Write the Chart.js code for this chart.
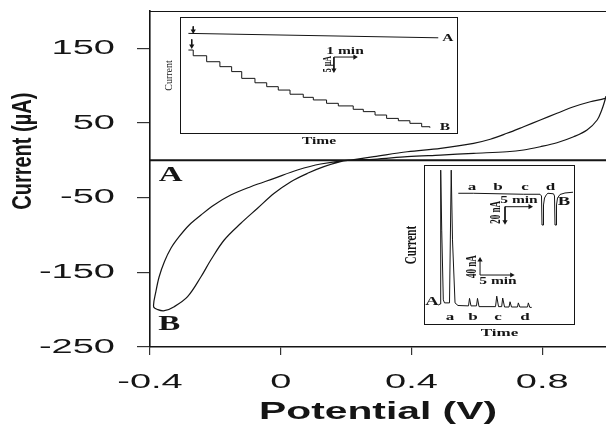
<!DOCTYPE html>
<html><head><meta charset="utf-8">
<script src="https://cdn.jsdelivr.net/npm/chart.js@4.4.1/dist/chart.umd.min.js"></script>
<style>
html,body{margin:0;padding:0;background:#fff;}
#wrap{position:relative;width:606px;height:435px;overflow:hidden;background:#fff;}
canvas{position:absolute;}
#main{left:0;top:0;width:606px;height:435px;}
#in1{left:155px;top:12px;width:310px;height:140px;}
#in2{left:400px;top:160px;width:180px;height:182px;}
</style></head><body>
<div id="wrap">
<canvas id="main" width="606" height="435"></canvas>
<canvas id="in1" width="310" height="140"></canvas>
<canvas id="in2" width="180" height="182"></canvas>
</div>
<script>
// ---------------- main voltammogram data ----------------
const xTicks = [-0.4, 0, 0.4, 0.8];
const xTickLabels = ['-0.4', '0', '0.4', '0.8'];
const yTicks = [150, 50, -50, -150, -250];

// Curve A: flat baseline
const potentialA = [-0.4, 0.2, 0.995];
const currentA = [0, 0, 0];

// Curve B: cyclic voltammogram loop
const potentialB = [0.995, 0.992, 0.947, 0.896, 0.845, 0.794, 0.743, 0.692, 0.641, 0.590, 0.489, 0.387, 0.285, 0.214,
  0.183, 0.132, 0.082, 0.031, -0.020, -0.071, -0.122, -0.173, -0.214, -0.244, -0.285, -0.326, -0.356, -0.376, -0.389,
  -0.382, -0.372, -0.356, -0.336, -0.311, -0.280, -0.244, -0.204, -0.153, -0.092, -0.020, 0.051, 0.122, 0.209,
  0.285, 0.387, 0.489, 0.590, 0.692, 0.743, 0.794, 0.845, 0.896, 0.937, 0.968, 0.982, 0.992, 0.995];
const currentB = [86, 83, 78.5, 71.8, 63, 54, 45, 36.2, 28.2, 22.8, 16.1, 11.5, 4.9, 0.4,
  -1.8, -8.5, -17.4, -28.6, -44.2, -64.2, -84.3, -106.7, -133.5, -155.9, -182.6, -196, -201.4, -200, -196,
  -175.9, -155.9, -135.8, -117.8, -102.3, -86.6, -73.2, -59.8, -46.4, -35.3, -24.1, -13.0, -4.9, 0.4,
  1.4, 4.9, 7.1, 9.4, 11.5, 13.8, 18.2, 23.6, 31.6, 40.6, 54, 67.4, 80.8, 86];

// ---------------- inset 1 (amperometric staircase) ----------------
const timeA1 = [0.40, 12.30];
const currA1 = [38.7, 37.0];
const timeB1 = [0.40, 0.63, 1.27, 1.90, 2.46, 2.94, 3.57, 4.13, 4.68, 5.24, 5.87, 6.35, 6.98, 7.54, 8.25, 8.73, 9.29, 9.84, 10.40, 10.95, 11.51, 11.90];
const currB1 = [32.3, 30.1, 27.8, 25.9, 24.0, 21.4, 19.7, 18.2, 16.9, 15.3, 14.1, 13.1, 11.8, 10.8, 9.5, 8.6, 7.3, 6.0, 5.1, 4.1, 2.8, 2.4];

// ---------------- inset 2 (flow injection peaks) ----------------
const timeA2 = [2.26, 2.53, 2.64, 2.80, 3.05, 3.24, 4.03, 4.30, 4.50, 4.90, 5.37, 7.03, 7.19, 7.42, 8.29, 8.45, 8.69,
  11.30, 11.49, 11.77, 12.27, 12.43, 12.72, 13.43, 13.59, 13.82, 14.77, 14.90, 15.13, 16.35, 16.48, 16.71, 17.01];
const currA2 = [53, 56, 413, 253, 67, 59, 59, 413, 227, 59, 52, 51, 71, 51, 51, 71, 49,
  49, 77, 49, 49, 72, 48, 48, 62, 48, 48, 59, 48, 48, 59, 47, 47];
const timeB2 = [6.86, 9.86, 15.2, 19.86, 23.2, 23.5, 23.6, 23.8, 23.9, 24.1, 24.5, 24.8, 25.9, 26.1, 26.2, 26.4, 26.5, 26.7, 27.2, 28.2, 29.8];
const currB2 = [175.6, 175.6, 174.9, 174.3, 174.3, 172, 133.3, 133.3, 160, 169.3, 174, 175.6, 174.9, 172, 133.3, 133.3, 160, 169.3, 174, 176, 177];

// ---------------- helpers ----------------
const INK = '#151515';
const SANS = "'Liberation Sans', Arial, sans-serif";
const SERIF = "'Liberation Serif', 'Times New Roman', serif";
const pts = (xs, ys) => xs.map((x, i) => ({x, y: ys[i]}));

function stretchContext(canvas, rule) {
  const ctx = canvas.getContext('2d');
  const fill = CanvasRenderingContext2D.prototype.fillText;
  const measure = CanvasRenderingContext2D.prototype.measureText;
  ctx.fillText = function (text, x, y, maxWidth) {
    const sx = rule(ctx.font);
    if (sx === 1) {
      return maxWidth === undefined ? fill.call(ctx, text, x, y) : fill.call(ctx, text, x, y, maxWidth);
    }
    const m = ctx.getTransform();
    const px = m.a * x + m.c * y + m.e;
    const py = m.b * x + m.d * y + m.f;
    ctx.save();
    ctx.setTransform(1, 0, 0, 1, 0, 0);
    ctx.translate(px, py);
    ctx.scale(sx, 1);
    ctx.translate(-px, -py);
    ctx.transform(m.a, m.b, m.c, m.d, m.e, m.f);
    fill.call(ctx, text, x, y);
    ctx.restore();
  };
  ctx.measureText = function (text) {
    const r = measure.call(ctx, text);
    const sx = rule(ctx.font);
    if (sx === 1) return r;
    return {width: r.width * sx,
      actualBoundingBoxAscent: r.actualBoundingBoxAscent, actualBoundingBoxDescent: r.actualBoundingBoxDescent,
      actualBoundingBoxLeft: r.actualBoundingBoxLeft * sx, actualBoundingBoxRight: r.actualBoundingBoxRight * sx,
      fontBoundingBoxAscent: r.fontBoundingBoxAscent, fontBoundingBoxDescent: r.fontBoundingBoxDescent};
  };
  return canvas;
}

function notesPlugin(items) {
  return {
    id: 'notes',
    afterDatasetsDraw(chart) {
      const ctx = chart.ctx;
      items.forEach(n => {
        const xs = chart.scales[n.xs || 'x'], ys = chart.scales[n.ys || 'y'];
        const px = xs.getPixelForValue(n.x), py = ys.getPixelForValue(n.y);
        ctx.save();
        ctx.font = (n.weight || 'bold') + ' ' + n.size + 'px ' + SERIF;
        ctx.fillStyle = INK;
        ctx.textAlign = 'center';
        ctx.textBaseline = 'middle';
        ctx.translate(px, py);
        if (n.rot) ctx.rotate(n.rot * Math.PI / 180);
        ctx.fillText(n.text, 0, 0);
        ctx.restore();
      });
    }
  };
}

function framePlugin(sides, width) {
  return {
    id: 'frame',
    afterDraw(chart) {
      const {ctx, chartArea: a} = chart;
      ctx.save();
      ctx.strokeStyle = INK;
      ctx.lineWidth = width;
      ctx.beginPath();
      if (sides.includes('t')) { ctx.moveTo(a.left, a.top + 0.5); ctx.lineTo(a.right, a.top + 0.5); }
      if (sides.includes('r')) { ctx.moveTo(a.right - 0.5, a.top); ctx.lineTo(a.right - 0.5, a.bottom); }
      if (sides.includes('b')) { ctx.moveTo(a.left, a.bottom - 0.5); ctx.lineTo(a.right, a.bottom - 0.5); }
      if (sides.includes('l')) { ctx.moveTo(a.left + 0.5, a.top); ctx.lineTo(a.left + 0.5, a.bottom); }
      ctx.stroke();
      ctx.restore();
    }
  };
}

function arrow(x0, y0, x1, y1, rot, xs, ys) {
  return {data: [{x: x0, y: y0}, {x: x1, y: y1}], showLine: true, borderColor: INK, borderWidth: 1,
    pointRadius: [0, 3], pointStyle: 'triangle', rotation: [0, rot], pointBackgroundColor: INK,
    pointBorderWidth: 0, xAxisID: xs || 'x', yAxisID: ys || 'y'};
}

function noPad(s) { s.paddingTop = 0; s.paddingBottom = 0; s.paddingLeft = 0; s.paddingRight = 0; }

Chart.defaults.animation = false;
Chart.defaults.color = INK;

const hidden = {ticks: {display: false}, grid: {display: false, drawTicks: false}, border: {display: false}};

// ---------------- main chart ----------------
stretchContext(document.getElementById('main'), f => /Serif/.test(f) ? 1.5 : (/bold/.test(f) ? (/24px/.test(f) ? 1.7 : 1.4) : 1.9));
new Chart(document.getElementById('main'), {
  type: 'scatter',
  data: {datasets: [
    {data: pts(potentialA, currentA), showLine: true, borderColor: INK, borderWidth: 2, pointRadius: 0},
    {data: pts(potentialB, currentB), showLine: true, borderColor: INK, borderWidth: 1.2, pointRadius: 0, tension: 0.35}
  ]},
  options: {
    responsive: false, devicePixelRatio: 1, animation: false,
    layout: {padding: {top: 11, right: 0, left: 0, bottom: 0}},
    plugins: {legend: {display: false}, tooltip: {enabled: false}},
    scales: {
      x: {type: 'linear', min: -0.4, max: 0.995,
        afterBuildTicks: s => { s.ticks = xTicks.map(v => ({value: v})); },
        afterFit: s => { s.height = 88; noPad(s); },
        ticks: {callback: v => xTickLabels[xTicks.indexOf(v)], font: {family: SANS, size: 20}, color: INK, padding: 15, maxRotation: 0, autoSkip: false},
        grid: {display: true, drawOnChartArea: false, drawTicks: true, tickLength: 8, color: '#333', lineWidth: 1.2},
        border: {display: true, color: INK, width: 1.6},
        title: {display: true, text: 'Potential (V)', color: INK, font: {family: SANS, size: 24, weight: 'bold'}, padding: {top: 0, bottom: 8}}
      },
      y: {type: 'linear', min: -250, max: 200,
        afterBuildTicks: s => { s.ticks = yTicks.map(v => ({value: v})); },
        afterFit: s => { s.width = 150; noPad(s); },
        ticks: {font: {family: SANS, size: 20}, color: INK, padding: 22},
        grid: {display: true, drawOnChartArea: false, drawTicks: true, tickLength: 13, color: '#333', lineWidth: 1.2},
        border: {display: true, color: INK, width: 1.6},
        title: {display: true, text: '          Current (µA)', color: INK, font: {family: SANS, size: 20, weight: 'bold'}, padding: {top: 11, bottom: 0}}
      }
    }
  },
  plugins: [framePlugin('t', 1.2), notesPlugin([
    {text: 'A', x: -0.337, y: -20, size: 22},
    {text: 'B', x: -0.341, y: -220, size: 22}
  ])]
});

// ---------------- inset 1 ----------------
stretchContext(document.getElementById('in1'), f => /bold/.test(f) ? 1.55 : 1);
new Chart(document.getElementById('in1'), {
  type: 'scatter',
  data: {datasets: [
    {data: pts(timeA1, currA1), showLine: true, borderColor: INK, borderWidth: 1, pointRadius: 0},
    {data: pts(timeB1, currB1), showLine: true, borderColor: INK, borderWidth: 1, pointRadius: 0, stepped: 'before'},
    arrow(0.63, 41.4, 0.63, 39.6, 180),
    arrow(0.56, 36.4, 0.56, 33.8, 180),
    arrow(7.33, 29.6, 8.33, 29.6, 90),
    arrow(7.33, 29.6, 7.33, 24.6, 180)
  ]},
  options: {
    responsive: false, devicePixelRatio: 1, animation: false,
    layout: {padding: {top: 5, right: 7, left: 0, bottom: 0}},
    plugins: {legend: {display: false}, tooltip: {enabled: false}},
    scales: {
      x: Object.assign({type: 'linear', min: 0, max: 13.24, afterFit: s => { s.height = 18; noPad(s); },
        title: {display: true, text: 'Time', color: INK, font: {family: SERIF, size: 10, weight: 'bold'}, padding: {top: 0, bottom: 5}}}, hidden),
      y: Object.assign({type: 'linear', min: 0, max: 45, afterFit: s => { s.width = 25; noPad(s); },
        title: {display: true, text: 'Current', color: INK, font: {family: SERIF, size: 10}, padding: {top: 8, bottom: 0}}}, hidden)
    }
  },
  plugins: [framePlugin('trbl', 1), notesPlugin([
    {text: 'A', x: 12.76, y: 36.9, size: 10},
    {text: 'B', x: 12.62, y: 2.7, size: 10},
    {text: '1 min', x: 7.86, y: 31.6, size: 10},
    {text: '5 µA', x: 7.06, y: 26.9, size: 8, rot: -90}
  ])]
});

// ---------------- inset 2 ----------------
stretchContext(document.getElementById('in2'), f => /bold/.test(f) ? 1.55 : 1);
new Chart(document.getElementById('in2'), {
  type: 'scatter',
  data: {datasets: [
    {data: pts(timeA2, currA2), showLine: true, borderColor: INK, borderWidth: 1, pointRadius: 0},
    {data: pts(timeB2, currB2), showLine: true, borderColor: INK, borderWidth: 1, pointRadius: 0, xAxisID: 'x2', yAxisID: 'y2'},
    arrow(16.2, 157.7, 21.2, 157.7, 90, 'x2', 'y2'),
    arrow(16.2, 157.7, 16.2, 137.7, 180, 'x2', 'y2'),
    arrow(8.85, 133.3, 8.85, 173.3, 0),
    arrow(8.85, 133.3, 13.85, 133.3, 90)
  ]},
  options: {
    responsive: false, devicePixelRatio: 1, animation: false,
    layout: {padding: {top: 5, right: 5, left: 0, bottom: 0}},
    plugins: {legend: {display: false}, tooltip: {enabled: false}},
    scales: {
      x: Object.assign({type: 'linear', min: 0, max: 23.85, afterFit: s => { s.height = 17; noPad(s); },
        title: {display: true, text: 'Time', color: INK, font: {family: SERIF, size: 11, weight: 'bold'}, padding: {top: 0, bottom: 2}}}, hidden),
      y: Object.assign({type: 'linear', min: 0, max: 426.7, afterFit: s => { s.width = 24; noPad(s); },
        title: {display: true, text: 'Current', color: INK, font: {family: SERIF, size: 11, weight: 'bold'}, padding: {top: 5, bottom: 0}}}, hidden),
      x2: {type: 'linear', position: 'bottom', display: false, min: 0, max: 30.2},
      y2: {type: 'linear', position: 'left', display: false, min: 0, max: 213.3}
    }
  },
  plugins: [framePlugin('trbl', 1), notesPlugin([
    {text: 'A', x: 1.26, y: 61.3, size: 12},
    {text: 'a', x: 4.11, y: 21.3, size: 11},
    {text: 'b', x: 7.74, y: 21.3, size: 11},
    {text: 'c', x: 11.69, y: 21.3, size: 11},
    {text: 'd', x: 15.96, y: 21.3, size: 11},
    {text: '5 min', x: 11.69, y: 116, size: 10},
    {text: '40 nA', x: 7.66, y: 155.5, size: 9, rot: -90},
    {text: 'a', x: 9.6, y: 184.4, size: 11, xs: 'x2', ys: 'y2'},
    {text: 'b', x: 14.8, y: 184.4, size: 11, xs: 'x2', ys: 'y2'},
    {text: 'c', x: 20.2, y: 184.4, size: 11, xs: 'x2', ys: 'y2'},
    {text: 'd', x: 25.3, y: 184.4, size: 11, xs: 'x2', ys: 'y2'},
    {text: 'B', x: 28.0, y: 164, size: 12, xs: 'x2', ys: 'y2'},
    {text: '5 min', x: 19.0, y: 166.7, size: 10, xs: 'x2', ys: 'y2'},
    {text: '20 nA', x: 14.5, y: 150, size: 9, rot: -90, xs: 'x2', ys: 'y2'}
  ])]
});
</script>
</body></html>
